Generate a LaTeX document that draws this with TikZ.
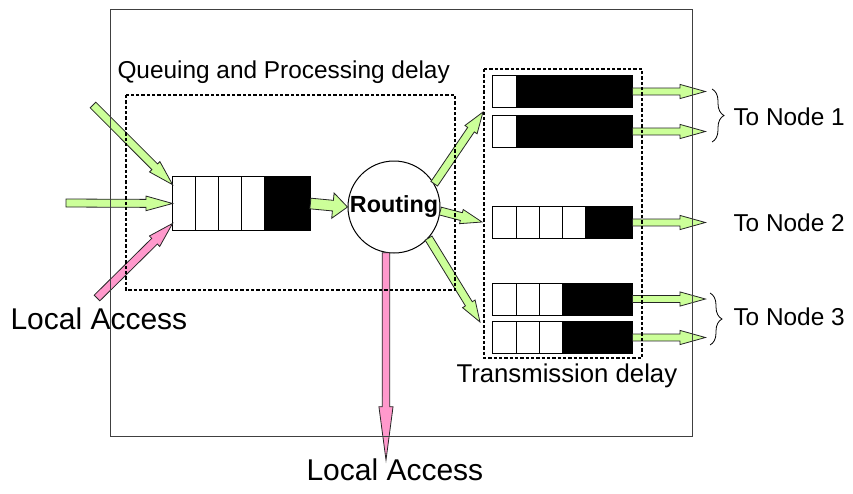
\documentclass[tikz,border=0pt]{standalone}
\usepackage{fontspec}
\setmainfont{Liberation Sans}
\usetikzlibrary{calc,decorations.pathreplacing}

\definecolor{arrowgreen}{HTML}{CCFF99}
\definecolor{arrowpink}{HTML}{FF99CC}

\tikzset{every picture/.style={line width=0.75pt}}
\tikzset{
	fat/.style={draw=black!85, line width=0.6pt, line join=miter},
	queue/.style={draw, line width=0.6pt, inner sep=0pt},
	dbox/.style={dash pattern=on 2.5pt off 1.5pt, line width=0.9pt},
	lbl/.style={font=\fontsize{18.3}{22}\selectfont, inner sep=0pt},
	biglbl/.style={font=\fontsize{22.5}{27}\selectfont, inner sep=0pt},
	curly/.style={decorate, decoration={brace, amplitude=9pt}, line width=0.6pt},
}

% block arrow: fill, from, to, shaft half width, head half width, head length
\newcommand{\fatarrow}[6]{%
	\coordinate (fa-b) at ($(#3)!#6!(#2)$);
	\filldraw[fat, fill=#1] ($(#2)!#4!90:(#3)$) -- ($(fa-b)!#4!90:(#3)$) -- ($(fa-b)!#5!90:(#3)$) -- (#3)
		-- ($(fa-b)!#5!-90:(#3)$) -- ($(fa-b)!#4!-90:(#3)$) -- ($(#2)!#4!-90:(#3)$) -- cycle;
}
% queue cells: node name, number of free cells (of 6)
\newcommand{\qcells}[2]{%
	\foreach \i in {0,...,5}{%
		\ifnum\i<#2 \def\cellcol{white}\else\def\cellcol{black}\fi
		\pgfmathsetmacro\ia{\i/6}\pgfmathsetmacro\ib{(\i+1)/6}
		\filldraw[draw=black, fill=\cellcol, line width=0.6pt] ($(#1.south west)!\ia!(#1.south east)$) rectangle ($(#1.north west)!\ib!(#1.north east)$);
	}%
}

\begin{document}
\begin{tikzpicture}[x=0.75pt,y=0.75pt,yscale=-1,xscale=1]
	\useasboundingbox (0,0) rectangle (853,493);

	%Shape: Input queue
	\node[queue, minimum width=102.75pt, minimum height=39.75pt] (q) at (241.5,203.5) {};
	\qcells{q}{4}
	%Shape: Routing
	\node[draw, circle, fill=white, minimum size=69pt, inner sep=0pt, font=\bfseries\fontsize{17.5}{20}\selectfont] (rt) at (394,207) {Routing};

	% incoming
	\coordinate (inA) at (93,105);
	\coordinate (inB) at (66,203);
	\coordinate (inC) at (97,298);
	\coordinate (qA) at ($(q.north west)!0.15!(q.south west)$);
	\coordinate (qC) at ($(q.north west)!0.87!(q.south west)$);
	\fatarrow{arrowgreen}{inA}{qA}{3pt}{5.5pt}{19pt}
	\fatarrow{arrowgreen}{inB}{q.west}{3pt}{5.5pt}{20pt}
	\fatarrow{arrowpink}{inC}{qC}{3pt}{5.5pt}{19pt}
	\fatarrow{arrowgreen}{q.east}{rt.west}{4pt}{9.5pt}{11pt}

	% routing out
	\coordinate (tA) at (483,112);
	\coordinate (tB) at (482,222);
	\coordinate (tC) at (480,322);
	\fatarrow{arrowgreen}{rt.30}{tA}{3pt}{5.5pt}{16pt}
	\fatarrow{arrowgreen}{rt.-5}{tB}{3pt}{5.5pt}{16pt}
	\fatarrow{arrowgreen}{rt.-42}{tC}{3pt}{5.5pt}{16pt}
	\coordinate (la) at (386,460);
	\fatarrow{arrowpink}{rt.260}{la}{2.8pt}{5.3pt}{40pt}

	%Shape: Output queues
	\foreach \n/\y/\w in {1/91.5/1, 2/131.5/1, 3/222.5/4, 4/299/3, 5/337.5/3}{
		\node[queue, minimum width=104.25pt, minimum height=23.25pt] (q\n) at (562.5,\y) {};
		\qcells{q\n}{\w}
		\path (q\n.east) ++(73,0) coordinate (o\n);
		\fatarrow{arrowgreen}{q\n.east}{o\n}{2.6pt}{5.3pt}{19pt}
	}

	%Shape: Rectangles
	\draw[black!75] (110,9) rectangle (692,436);
	\draw[dbox] (126,95) rectangle (455,290);
	\draw[dbox] (484,69) rectangle (642,358);

	%Shape: Braces
	\draw[curly] (712,89) -- (712,142);
	\draw[curly] (710,293) -- (710,345);

	% Text Node
	\node[lbl, anchor=base west] (qpd) at (117,78) {Queuing and Processing delay};
	% Text Node
	\node[lbl, anchor=base west, font=\fontsize{19.3}{23}\selectfont] (txd) at (456,382) {Transmission delay};
	% Text Node
	\node[lbl, anchor=base west] (n1) at (733,125) {To Node 1};
	% Text Node
	\node[lbl, anchor=base west] (n2) at (733,231) {To Node 2};
	% Text Node
	\node[lbl, anchor=base west] (n3) at (733,325) {To Node 3};
	% Text Node
	\node[biglbl, anchor=base west] (lain) at (10,329) {Local Access};
	% Text Node
	\node[biglbl, anchor=base west] (laout) at (306,480) {Local Access};

\end{tikzpicture}
\end{document}
